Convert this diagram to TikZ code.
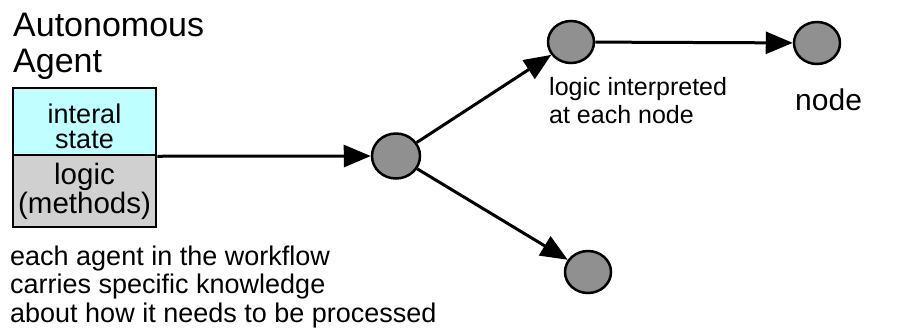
\documentclass[tikz,border=0pt]{standalone}
\usepackage{fontspec}
\setmainfont{Liberation Sans}
\usetikzlibrary{arrows.meta,shapes.geometric}
\definecolor{statecol}{HTML}{C0FFFF}
\definecolor{logiccol}{HTML}{D0D0D0}
\definecolor{nodecol}{HTML}{909090}
\tikzset{
  flownode/.style={ellipse,draw=black,line width=2.5pt,fill=nodecol,minimum width=46pt,minimum height=42pt,inner sep=0pt},
  partbox/.style={rectangle,draw=black,line width=2.5pt,minimum width=143pt,inner sep=0pt},
  boxtxt/.style={inner sep=0pt,anchor=base,align=center},
  flowarrow/.style={line width=3pt,-{Triangle[length=27pt,width=22pt]}},
  txt/.style={inner sep=0pt,anchor=base west,align=left}
}
\begin{document}
\begin{tikzpicture}[x=1pt,y=-1pt]
\useasboundingbox (0,0) rectangle (904,330);
\node[txt,font=\fontsize{34}{36}\selectfont] (title) at (13,72) {Autonomous\\Agent};
\node[partbox,fill=statecol,minimum height=67pt] (state) at (84.5,121.5) {};
\node[partbox,fill=logiccol,minimum height=72pt] (logic) at (84.5,191) {};
\node[boxtxt,font=\fontsize{27}{25}\selectfont] (statetxt) at (84.5,148) {interal\\state};
\node[boxtxt,font=\fontsize{29.5}{23.5}\selectfont] (logictxt) at (84.5,213) {logic\\(methods)};
\node[txt,font=\fontsize{27}{28.5}\selectfont] (desc) at (10,322) {each agent in the workflow\\carries specific knowledge\\about how it needs to be processed};
\node[flownode,minimum width=48pt,minimum height=45pt] (c) at (396,156) {};
\node[flownode] (u) at (571,42) {};
\node[flownode] (d) at (588,272) {};
\node[flownode] (r) at (817,43) {};
\node[txt,font=\fontsize{25}{28}\selectfont] (interp) at (549,123) {logic interpreted\\at each node};
\node[txt,font=\fontsize{30}{30}\selectfont] (nodelbl) at (795,110) {node};
\draw[flowarrow] (state.south east) -- (c);
\draw[flowarrow] (c) -- (u);
\draw[flowarrow] (c) -- (d);
\draw[flowarrow] (u) -- (r);
\end{tikzpicture}
\end{document}
